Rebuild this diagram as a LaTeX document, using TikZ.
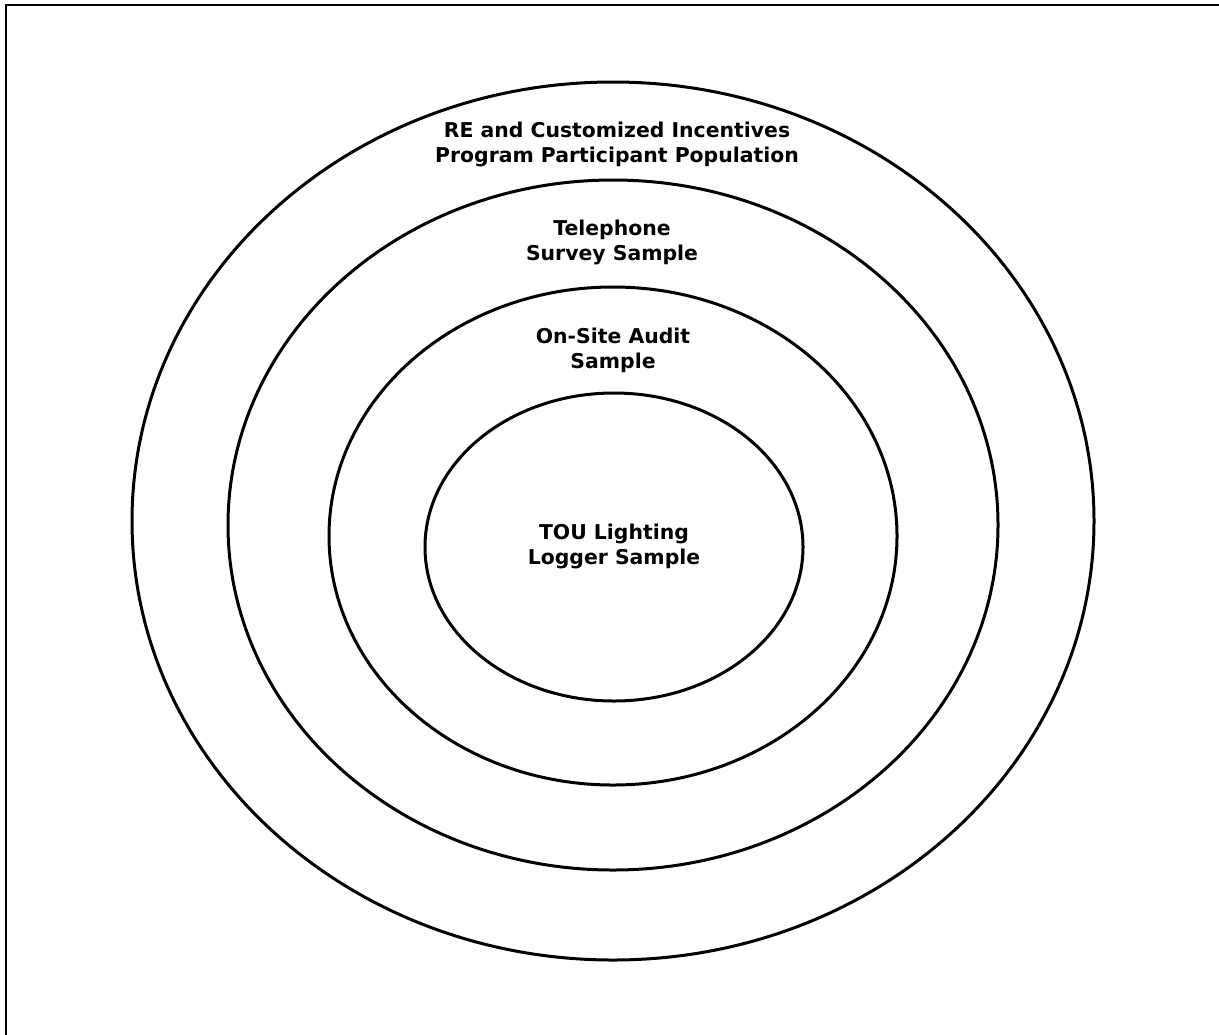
\documentclass[tikz,border=0pt]{standalone}
\usepackage{fontspec}
\setsansfont{DejaVu Sans}

\begin{document}
\begin{tikzpicture}[x=0.5pt,y=-0.5pt,
  ring/.style={black, line width=1.5pt},
  lbl/.style={font=\sffamily\bfseries\fontsize{10.2}{12.5}\selectfont, align=center, inner sep=0pt}]
\useasboundingbox (0,0) rectangle (1219,1034);
\draw[line width=1pt] (6,1040) -- (6,5) -- (1225,5);
\draw[ring] (613,521) ellipse (481 and 439);
\draw[ring] (613,525) ellipse (385 and 345);
\draw[ring] (613,536) ellipse (284 and 249);
\draw[ring] (614,547) ellipse (189 and 154);
\node[lbl] (pop) at (617,144) {RE and Customized Incentives\\Program Participant Population};
\node[lbl] (tel) at (612,242) {Telephone\\Survey Sample};
\node[lbl] (site) at (613,350) {On-Site Audit\\Sample};
\node[lbl] (tou) at (614,546) {TOU Lighting\\Logger Sample};
\end{tikzpicture}
\end{document}
